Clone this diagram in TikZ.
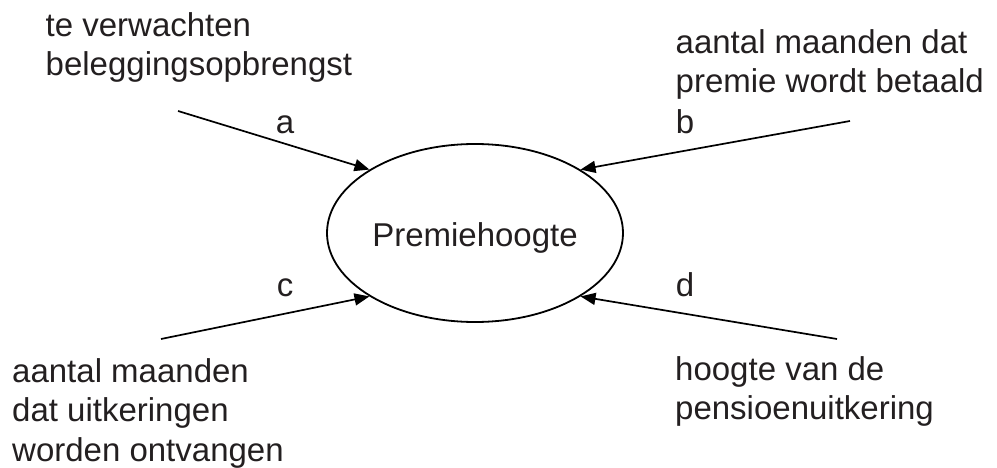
\documentclass[tikz,border=0pt]{standalone}
\usepackage{fontspec}
\setmainfont{Liberation Sans}
\usetikzlibrary{arrows.meta,shapes.geometric}
\definecolor{ink}{RGB}{35,31,32}
\begin{document}
\begin{tikzpicture}[x=1pt,y=-1pt]
\tikzset{blob/.style = {shape=ellipse,draw,line width=1.8pt,minimum width=296pt,minimum height=178pt,inner sep=0pt,text=ink,text height=28pt,text depth=0pt,font=\fontsize{33}{39.5}\selectfont}}
\tikzset{factor/.style = {align=left,anchor=north west,inner sep=0pt,text=ink,font=\fontsize{33}{39.5}\selectfont}}
\tikzset{tag/.style = {anchor=base,inner sep=0pt,text=ink,font=\fontsize{33}{39.5}\selectfont}}
\tikzset{edge/.style = {-{Triangle[length=15pt,width=12pt]},line width=1.7pt}}
\useasboundingbox (0,0) rectangle (997,468);
%\fill[white] (0,0) rectangle (997,468);
\node[blob] (p) at (475,233) {Premiehoogte\hspace{12pt}};
\node[factor] (fa) at (45.5,8.35) {\strut te verwachten\\beleggingsopbrengst};
\node[factor] (fb) at (675.5,25.35) {\strut aantal maanden dat\\premie wordt betaald};
\node[factor] (fc) at (12,354.35) {\strut aantal maanden\\dat uitkeringen\\worden ontvangen};
\node[factor] (fd) at (675,352.35) {\strut hoogte van de\\pensioenuitkering};
\node[tag] (la) at (285,134) {a};
\node[tag] (lb) at (685,134) {b};
\node[tag] (lc) at (285,296) {c};
\node[tag] (ld) at (685,296) {d};
\coordinate (sa) at (178,111);
\coordinate (sb) at (850,121);
\coordinate (sc) at (161,339);
\coordinate (sd) at (837,339);
\draw[edge] (sa) -- (p.149);
\draw[edge] (sb) -- (p.31);
\draw[edge] (sc) -- (p.211);
\draw[edge] (sd) -- (p.329);
\end{tikzpicture}
\end{document}
